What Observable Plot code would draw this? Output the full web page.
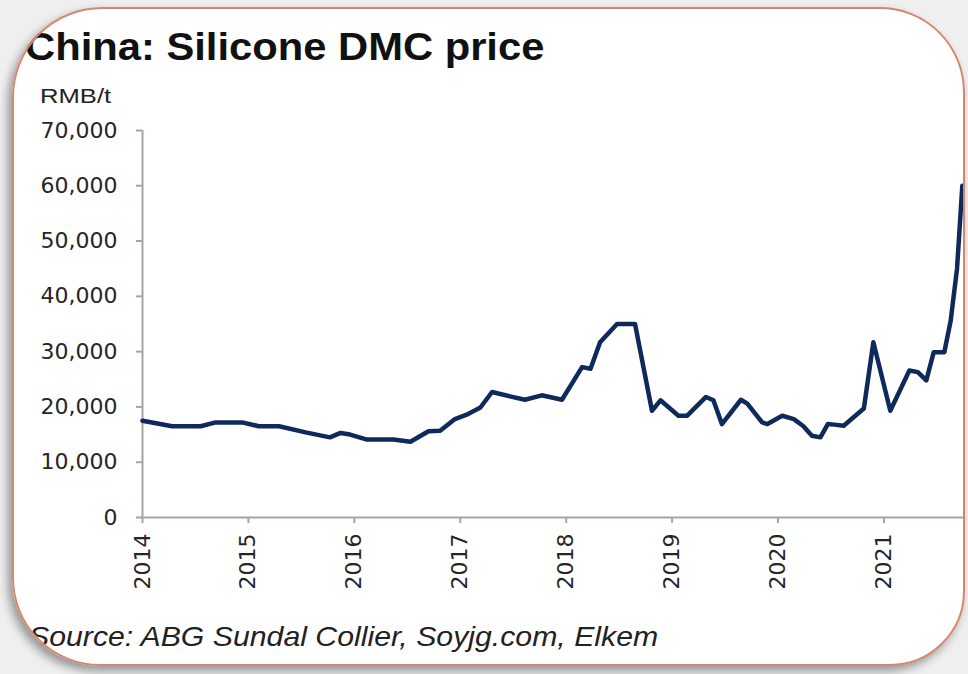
<!DOCTYPE html>
<html>
<head>
<meta charset="utf-8">
<script src="https://cdn.jsdelivr.net/npm/d3@7"></script>
<script src="https://cdn.jsdelivr.net/npm/@observablehq/plot@0.6"></script>
<style>
  html, body { margin: 0; padding: 0; width: 968px; height: 674px; overflow: hidden; background: #efefef; }
  #shadow { position: absolute; left: 12px; top: 7px; width: 953px; height: 659px; background: #fff;
    border-radius: 90px 85px 75px 88px; box-shadow: -4px 5px 10px rgba(0,0,0,0.38); }
  #content { position: absolute; left: 0; top: 0; width: 968px; height: 674px;
    clip-path: inset(7px 3px 8px 12px round 90px 85px 75px 88px); }
  #border { position: absolute; left: 12px; top: 7px; width: 953px; height: 659px; box-sizing: border-box;
    border: 2.5px solid #d6866d; border-radius: 90px 85px 75px 88px; pointer-events: none; }
  #title { position: absolute; left: 25px; top: 25px; font: bold 39px "Liberation Sans", Arial, sans-serif;
    color: #111; white-space: nowrap; transform: scaleX(1.07); transform-origin: left top; }
  #unit { position: absolute; left: 40px; top: 84px; font: 21px "Liberation Sans", Arial, sans-serif;
    color: #222; white-space: nowrap; transform: scaleX(1.22); transform-origin: left top; }
  #source { position: absolute; left: 29px; top: 621px; font: italic 28px "Liberation Sans", Arial, sans-serif;
    color: #222; white-space: nowrap; transform: scaleX(1.08); transform-origin: left top; }
  #chart { position: absolute; left: 0; top: 110px; }
</style>
</head>
<body>
<div id="shadow"></div>
<div id="content">
  <div id="title">China: Silicone DMC price</div>
  <div id="unit">RMB/t</div>
  <div id="chart"></div>
  <div id="source">Source: ABG Sundal Collier, Soyjg.com, Elkem</div>
</div>
<div id="border"></div>
<script>
const dates = [
  2014.00, 2014.28, 2014.55, 2014.69, 2014.94, 2015.10, 2015.29, 2015.54, 2015.77, 2015.87,
  2015.96, 2016.12, 2016.37, 2016.53, 2016.70, 2016.81, 2016.95, 2017.06, 2017.19, 2017.30,
  2017.47, 2017.61, 2017.77, 2017.96, 2018.15, 2018.23, 2018.32, 2018.48, 2018.65, 2018.81,
  2018.89, 2019.06, 2019.14, 2019.32, 2019.39, 2019.47, 2019.65, 2019.71, 2019.85, 2019.90,
  2020.04, 2020.15, 2020.24, 2020.32, 2020.40, 2020.47, 2020.53, 2020.62, 2020.81, 2020.90,
  2021.06, 2021.24, 2021.32, 2021.40, 2021.47, 2021.57, 2021.63, 2021.69, 2021.74
];
const prices = [
  17500, 16500, 16500, 17200, 17200, 16500, 16500, 15400, 14500, 15300,
  15000, 14100, 14100, 13700, 15600, 15700, 17800, 18600, 19900, 22700,
  21900, 21300, 22100, 21300, 27200, 26900, 31700, 35000, 35000, 19300,
  21200, 18400, 18400, 21800, 21200, 16900, 21300, 20600, 17200, 16900,
  18400, 17800, 16500, 14800, 14500, 16900, 16800, 16600, 19700, 31700,
  19300, 26600, 26300, 24800, 29900, 29900, 35600, 45000, 60000
];
const yTicks = [0, 10000, 20000, 30000, 40000, 50000, 60000, 70000];
const xTicks = [2014, 2015, 2016, 2017, 2018, 2019, 2020, 2021];

const data = dates.map((d, i) => ({date: d, price: prices[i]}));
const axisColor = "#aaa49c";

const chart = Plot.plot({
  width: 968,
  height: 510,
  marginTop: 20,
  marginBottom: 103,
  marginLeft: 142,
  marginRight: 3,
  x: {domain: [2014, 2021.77]},
  y: {domain: [0, 70000]},
  style: {background: "transparent", fontFamily: "'DejaVu Sans', sans-serif", fontSize: "22px", color: "#262626"},
  marks: [
    Plot.ruleX([2014], {stroke: axisColor, strokeWidth: 2}),
    Plot.ruleY([0], {stroke: axisColor, strokeWidth: 2}),
    Plot.axisY({ticks: yTicks, tickFormat: d3.format(","), tickSize: 6, tickPadding: 19, stroke: axisColor, strokeWidth: 2, label: null}),
    Plot.axisX({ticks: xTicks, tickFormat: d => String(d), tickRotate: -90, tickSize: 6, tickPadding: 10, stroke: axisColor, strokeWidth: 2, label: null}),
    Plot.line(data, {x: "date", y: "price", stroke: "#0d2a5a", strokeWidth: 4.5, strokeLinejoin: "round", strokeLinecap: "round"})
  ]
});
document.getElementById("chart").appendChild(chart);
</script>
</body>
</html>
